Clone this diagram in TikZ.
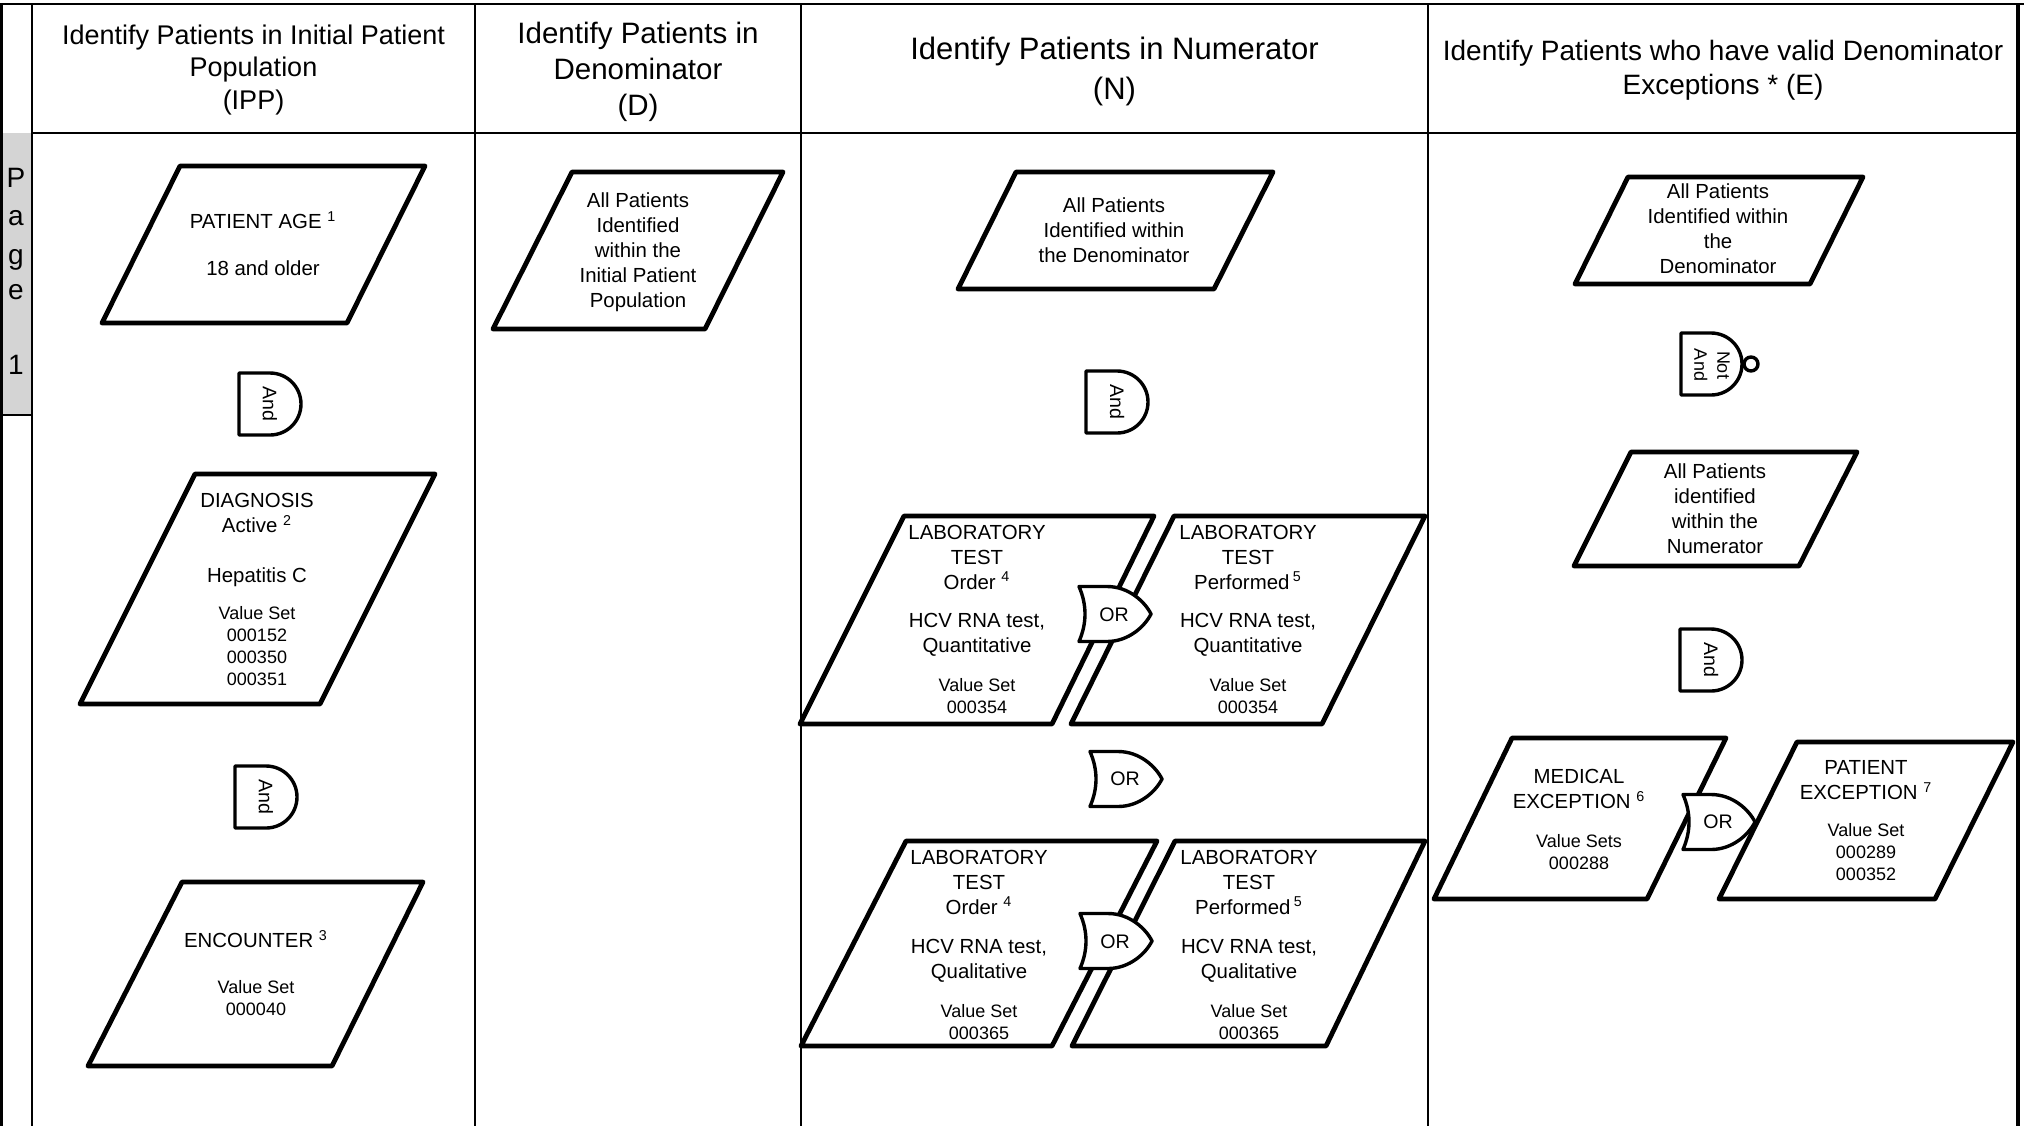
\documentclass[tikz,border=0pt]{standalone}
\usepackage{fontspec}
\setmainfont{Liberation Sans}
\usepackage{xcolor}
\usepackage{tikz}

\definecolor{tabgray}{RGB}{212,212,212}

\tikzset{
  gridline/.style={line width=1pt},
  rimline/.style={line width=1.7pt},
  slab/.style={line width=2.4pt,line join=round},
  gate/.style={line width=1.7pt,line join=round,fill=white},
  hdr/.style={align=center,inner sep=0pt},
  body/.style={align=center,inner sep=0pt,font=\fontsize{10.2}{12.5}\selectfont},
  vset/.style={align=center,inner sep=0pt,font=\fontsize{9}{11}\selectfont},
  gtxt/.style={align=center,inner sep=0pt,font=\fontsize{9.8}{11.5}\selectfont},
  tabtxt/.style={inner sep=0pt,font=\fontsize{14}{16}\selectfont},
  andgate/.pic={
    \draw[gate] (-31,-31) -- (0,-31) arc (-90:90:31) -- (-31,31) -- cycle;
  },
  nandgate/.pic={
    \draw[gate] (-30,-31) -- (0,-31) arc (-90:90:31) -- (-30,31) -- cycle;
    \draw[gate] (40,0) circle (7);
  },
  orgate/.pic={
    \draw[gate] (-36,-27.5) -- (-8,-27.5) .. controls (14,-27.5) and (30,-12) .. (36,0)
      .. controls (30,12) and (14,27.5) .. (-8,27.5) -- (-36,27.5)
      .. controls (-28,9) and (-28,-9) .. (-36,-27.5) -- cycle;
  },
}

\begin{document}
\begin{tikzpicture}[x=0.5pt,y=-0.5pt]
\useasboundingbox (0,0) rectangle (2024,1126);

% table
\draw[gridline] (0,4) -- (2024,4);
\draw[rimline] (1.5,4) -- (1.5,1126);
\draw[rimline] (2018,4) -- (2018,1126);
\foreach \xx in {32,475,801,1428}
  \draw[gridline] (\xx,4) -- (\xx,1126);
\draw[gridline] (32,133) -- (2018,133);

% page tab
\fill[tabgray] (3,133) rectangle (31,415);
\draw[gridline] (0,415) -- (32,415);
\foreach \ch/\yy [count=\i] in {P/178,a/218,g/260,e/292,1/365}
  \node[tabtxt] (pg\i) at (16,\yy) {\ch};

% headers
\node[hdr,font=\fontsize{13.5}{16.25}\selectfont] (hIPP) at (253.5,70) {Identify Patients in Initial Patient\\Population\\(IPP)};
\node[hdr,font=\fontsize{14.75}{18}\selectfont] (hD) at (638,72) {Identify Patients in\\Denominator\\(D)};
\node[hdr,font=\fontsize{15.5}{20}\selectfont] (hN) at (1114.5,71) {Identify Patients in Numerator\\(N)};
\node[hdr,font=\fontsize{14}{17}\selectfont] (hE) at (1723,70) {Identify Patients who have valid Denominator\\Exceptions * (E)};

% IPP column
\draw[slab] (180,166) -- (425,166) -- (347,323) -- (102,323) -- cycle;
\draw[slab] (195,474) -- (435,474) -- (320,704) -- (80,704) -- cycle;
\draw[slab] (182,882) -- (423,882) -- (332,1066) -- (88,1066) -- cycle;
\node[body] (ageA) at (263,220) {PATIENT AGE \textsuperscript{1}};
\node[body] (ageB) at (263,268) {18 and older};
\node[body] (diagA) at (257,513) {DIAGNOSIS\\Active \textsuperscript{2}};
\node[body] (diagB) at (257,577) {Hepatitis C};
\node[vset] (diagC) at (257,646) {Value Set\\000152\\000350\\000351};
\node[body] (encA) at (256,939) {ENCOUNTER \textsuperscript{3}};
\node[vset] (encB) at (256,998) {Value Set\\000040};
\pic at (270,404) {andgate};
\pic at (266,797) {andgate};
\node[gtxt,rotate=-90] (and1) at (270,404) {And};
\node[gtxt,rotate=-90] (and2) at (266,797) {And};

% D column
\draw[slab] (572,172) -- (783,172) -- (705,329) -- (493,329) -- cycle;
\node[body] (dAll) at (638,252) {All Patients\\Identified\\within the\\Initial Patient\\Population};

% N column
\draw[slab] (1016,172) -- (1273,172) -- (1214,289) -- (958,289) -- cycle;
\node[body] (nAll) at (1114,230) {All Patients\\Identified within\\the Denominator};
\pic at (1117,402) {andgate};
\node[gtxt,rotate=-90] (and3) at (1117,402) {And};

\draw[slab] (904,516) -- (1154,516) -- (1052,724) -- (800,724) -- cycle;
\draw[slab] (1174,516) -- (1425,516) -- (1322,724) -- (1071,724) -- cycle;
\draw[slab] (906,841) -- (1157,841) -- (1052,1046) -- (801,1046) -- cycle;
\draw[slab] (1175,841) -- (1425,841) -- (1326,1046) -- (1072,1046) -- cycle;
\node[body] (lab1A) at (977,557) {LABORATORY\\TEST\\Order \textsuperscript{4}};
\node[body] (lab1B) at (977,635) {HCV RNA test,\\Quantitative};
\node[vset] (lab1C) at (977,696) {Value Set\\000354};
\node[body] (lab2A) at (1248,557) {LABORATORY\\TEST\\Performed\,\textsuperscript{5}};
\node[body] (lab2B) at (1248,635) {HCV RNA test,\\Quantitative};
\node[vset] (lab2C) at (1248,696) {Value Set\\000354};
\node[body] (lab3A) at (979,882) {LABORATORY\\TEST\\Order \textsuperscript{4}};
\node[body] (lab3B) at (979,961) {HCV RNA test,\\Qualitative};
\node[vset] (lab3C) at (979,1022) {Value Set\\000365};
\node[body] (lab4A) at (1249,882) {LABORATORY\\TEST\\Performed\,\textsuperscript{5}};
\node[body] (lab4B) at (1249,961) {HCV RNA test,\\Qualitative};
\node[vset] (lab4C) at (1249,1022) {Value Set\\000365};
\pic at (1115,614) {orgate};
\pic at (1126,779) {orgate};
\pic at (1116,941) {orgate};
\node[gtxt] (or1) at (1114,615) {OR};
\node[gtxt] (or2) at (1125,779) {OR};
\node[gtxt] (or3) at (1115,942) {OR};

% E column
\draw[slab] (1628,177) -- (1863,177) -- (1810,284) -- (1575,284) -- cycle;
\draw[slab] (1631,452) -- (1857,452) -- (1799,566) -- (1574,566) -- cycle;
\draw[slab] (1512,738) -- (1726,738) -- (1647,899) -- (1434,899) -- cycle;
\draw[slab] (1797,742) -- (2013,742) -- (1935,899) -- (1719,899) -- cycle;
\node[body] (eDen) at (1718,229) {All Patients\\Identified within\\the\\Denominator};
\node[body] (eNum) at (1715,509) {All Patients\\identified\\within the\\Numerator};
\node[body] (medA) at (1579,789) {MEDICAL\\EXCEPTION \textsuperscript{6}};
\node[vset] (medB) at (1579,852) {Value Sets\\000288};
\node[body] (patA) at (1866,780) {PATIENT\\EXCEPTION \textsuperscript{7}};
\node[vset] (patB) at (1866,852) {Value Set\\000289\\000352};
\pic at (1711,364) {nandgate};
\node[gtxt,rotate=-90,font=\fontsize{9}{11.5}\selectfont] (nand) at (1712,365) {Not\\And};
\pic at (1711,660) {andgate};
\node[gtxt,rotate=-90] (and4) at (1711,660) {And};
\pic at (1719,822) {orgate};
\node[gtxt] (or4) at (1718,822) {OR};
\end{tikzpicture}
\end{document}
